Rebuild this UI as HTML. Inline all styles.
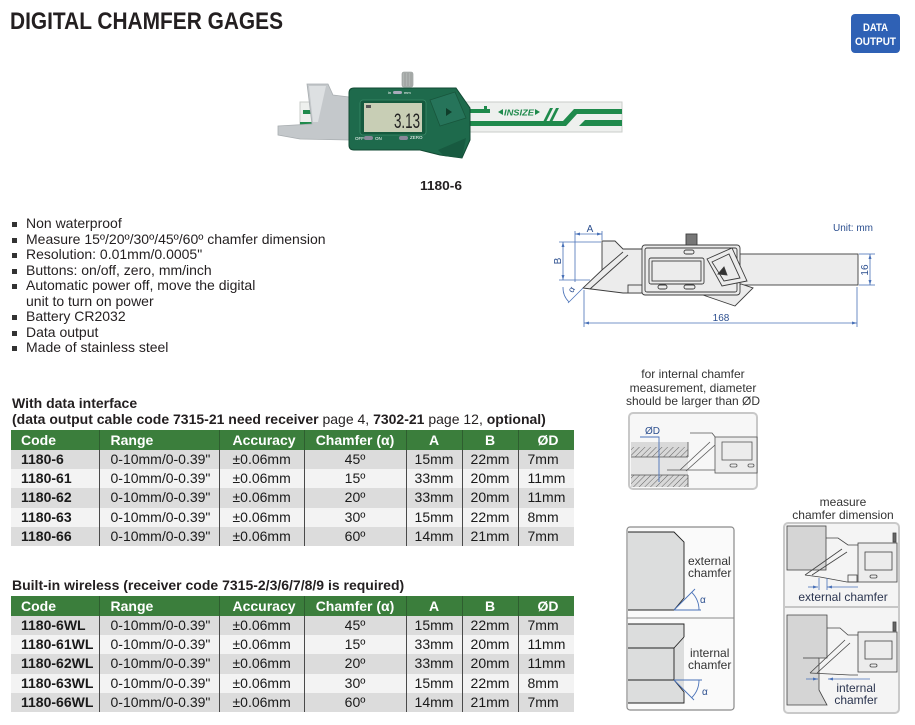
<!DOCTYPE html>
<html><head><meta charset="utf-8">
<style>
html,body{margin:0;padding:0;background:#fff;}
body{width:915px;height:725px;position:relative;overflow:hidden;font-family:"Liberation Sans",Arial,sans-serif;color:#231f20;}
.a{position:absolute;white-space:nowrap;}
svg.bg{position:absolute;left:0;top:0;}
.t{position:absolute;left:11px;width:563px;border-collapse:collapse;table-layout:fixed;font-size:14px;color:#1a1a1a;}
.t td{padding:0;height:19.2px;line-height:19px;overflow:hidden;white-space:nowrap;border-left:1px solid #4a4a4a;}
.t td:first-child{border-left:none;}
.t tr.h td{background:#3b7e3c;color:#fff;font-weight:bold;height:20px;line-height:20px;border-left:1px solid #2e5e2f;}
.t tr.h td:first-child{border-left:none;}
.t tr.g td{background:#dcdcdc;}
.t tr.w td{background:#f3f3f3;}
.t td.c1{padding-left:10px;font-weight:bold;}
.t td.c2{padding-left:11px;}
.t td.c3{padding-left:13px;}
.t td.cc{text-align:center;}
.t td.c7{padding-left:9px;}
.t tr.h td.c7{padding-left:19px;}
.bul{position:absolute;left:12px;width:5px;height:5px;background:#333;}
.cap{position:absolute;font-size:12px;color:#333;text-align:center;white-space:nowrap;}
</style></head><body>

<svg class="bg" width="915" height="725" viewBox="0 0 915 725" xmlns="http://www.w3.org/2000/svg">
<defs>
<marker id="ar" viewBox="0 0 10 10" refX="10" refY="5" markerUnits="userSpaceOnUse" markerWidth="5" markerHeight="5" orient="auto-start-reverse"><path d="M0 2 L10 5 L0 8Z" fill="#4a72b8"/></marker>
<pattern id="hat" width="4" height="4" patternUnits="userSpaceOnUse" patternTransform="rotate(45)"><rect width="4" height="4" fill="#d8d8d8"/><line x1="0" y1="0" x2="0" y2="4" stroke="#555" stroke-width="0.9"/></pattern>
</defs>

<!-- Title -->
<text x="10" y="29" font-family="Liberation Sans, Arial, sans-serif" font-size="24" font-weight="bold" fill="#231f20" textLength="273" lengthAdjust="spacingAndGlyphs">DIGITAL CHAMFER GAGES</text>

<!-- badge -->
<rect x="851" y="14" width="49" height="39" rx="4" fill="#2f61b5"/>
<text x="875.5" y="31" text-anchor="middle" font-family="Liberation Sans, Arial, sans-serif" font-size="11" font-weight="bold" fill="#fff" textLength="25" lengthAdjust="spacingAndGlyphs">DATA</text>
<text x="875.5" y="45" text-anchor="middle" font-family="Liberation Sans, Arial, sans-serif" font-size="11" font-weight="bold" fill="#fff" textLength="41" lengthAdjust="spacingAndGlyphs">OUTPUT</text>

<!-- Product photo -->
<g>
 <rect x="300" y="102" width="322" height="30" fill="#eef0ee" stroke="#c9cdca"/>
 <path d="M303 110 H349 V114 H303Z" fill="#1f8a4c"/>
 <path d="M300 122 H349 V127 H300Z" fill="#1f8a4c"/>
 <path d="M329 106 H332 V114 H329Z" fill="#1f8a4c"/>
 <path d="M470 109 H490 V113 H470Z" fill="#1f8a4c"/>
 <path d="M484 106 H487 V113 H484Z" fill="#1f8a4c"/>
 <path d="M470 121 H563 L574 109 H622 V114 H577 L566 126 H470 Z" fill="#1f8a4c"/>
 <path d="M579 126 L585 120 H622 V126 Z" fill="#1f8a4c"/>
 <path d="M543 122 L550 108 H553 L546 122Z" fill="#1f8a4c"/>
 <path d="M549 122 L556 108 H559 L552 122Z" fill="#1f8a4c"/>
 <path d="M498 112 L503 109 V115Z" fill="#1f8a4c"/>
 <path d="M540 112 L535 109 V115Z" fill="#1f8a4c"/>
 <text x="504" y="115.5" font-family="Liberation Sans, Arial, sans-serif" font-size="8" font-weight="bold" font-style="italic" fill="#1f8a4c" textLength="30" lengthAdjust="spacingAndGlyphs">INSIZE</text>
 <!-- jaw -->
 <path d="M307 84 L328 84 L333 95 L349 97 L349 140 L300 139 L278 135 L278 126 L312 124 L309 100 Z" fill="#c4c8cb" stroke="#a9aeb1" stroke-width="0.8"/>
 <path d="M309 86 L326 86 L318 122 L313 122Z" fill="#dde0e2"/>
 <!-- body -->
 <path d="M354 88 H456 L470 108 L470 140 L462 158 L440 155 L420 150 H354 Q349 150 349 145 V93 Q349 88 354 88Z" fill="#1e6a4c" stroke="#124a33"/>
 <rect x="360" y="100" width="66" height="35" rx="3" fill="#155a3e" stroke="#3a8a68" stroke-width="0.8"/>
 <rect x="364" y="103" width="58" height="29" fill="#c8ceb5"/>
 <text x="420" y="128" text-anchor="end" font-family="Liberation Sans, Arial, sans-serif" font-size="21" fill="#222" textLength="26" lengthAdjust="spacingAndGlyphs">3.13</text>
 <rect x="366" y="105" width="5" height="3" fill="#555"/>
 <path d="M430 100 L455 92 L466 118 L440 126 Z" fill="#26745a" stroke="#18563c" stroke-width="0.8"/>
 <path d="M446 108 L452 112 L446 116Z" fill="#0f3d2a"/>
 <path d="M438 150 L466 138 L462 158 L444 156Z" fill="#175a40"/>
 <rect x="402" y="72" width="11" height="15" rx="2" fill="#b0b5b3" stroke="#8c918f" stroke-width="0.6"/>
 <path d="M405 73 V86 M408 73 V86 M411 73 V86" stroke="#888" stroke-width="0.6"/>
 <rect x="393" y="91" width="9" height="3" rx="1.5" fill="#aab"/>
 <text x="388" y="94" font-family="Liberation Sans, Arial, sans-serif" font-size="4" fill="#fff">in</text>
 <text x="404" y="94" font-family="Liberation Sans, Arial, sans-serif" font-size="4" fill="#fff">mm</text>
 <text x="355" y="140" font-family="Liberation Sans, Arial, sans-serif" font-size="4.5" fill="#fff">OFF</text>
 <rect x="364" y="136" width="9" height="4" rx="2" fill="#889"/>
 <text x="375" y="140" font-family="Liberation Sans, Arial, sans-serif" font-size="4.5" fill="#fff">ON</text>
 <rect x="399" y="136" width="9" height="4" rx="2" fill="#889"/>
 <text x="410" y="139" font-family="Liberation Sans, Arial, sans-serif" font-size="4.5" fill="#fff">ZERO</text>
</g>
<text x="420" y="190" font-family="Liberation Sans, Arial, sans-serif" font-size="13" font-weight="bold" fill="#231f20" textLength="42" lengthAdjust="spacingAndGlyphs">1180-6</text>

<!-- Dimension drawing -->
<text x="833" y="231" font-family="Liberation Sans, Arial, sans-serif" font-size="10" fill="#2c4f8f">Unit: mm</text>
<g stroke="#3d3d3d" stroke-width="0.9" fill="#ececec">
 <rect x="738" y="254" width="120" height="31"/>
 <path d="M602 241 H615 L623 249 H643 V293 H623 L583 288 L602 270 Z"/>
 <line x1="602" y1="270" x2="623" y2="252"/>
 <line x1="590" y1="289" x2="628" y2="255"/>
 <rect x="628" y="285" width="14" height="8"/>
 <path d="M700 294 L735 306 L753 288 L741 284 L720 294Z"/>
 <rect x="642" y="245" width="98" height="50" rx="3"/>
 <rect x="645" y="248" width="92" height="44" rx="2" fill="none"/>
 <rect x="649" y="258" width="55" height="26" rx="2"/>
 <rect x="652" y="261" width="49" height="20" fill="none"/>
 <rect x="686" y="234" width="11" height="11" fill="#777"/>
 <rect x="684" y="250" width="10" height="4" rx="2"/>
 <rect x="658" y="285" width="9" height="4" rx="2"/>
 <rect x="684" y="285" width="11" height="4" rx="2"/>
 <path d="M707 259 L732 248 L747 281 L722 286 Z"/>
 <path d="M712 262 L729 254 L740 278 L724 281Z" fill="none"/>
 <path d="M718 274 L724 267 L727 275Z" fill="#333"/>
</g>
<g stroke="#4a72b8" stroke-width="0.8" fill="none">
 <line x1="575" y1="231" x2="575" y2="282"/>
 <line x1="602" y1="231" x2="602" y2="240"/>
 <line x1="575" y1="234" x2="602" y2="234" marker-start="url(#ar)" marker-end="url(#ar)"/>
 <line x1="559" y1="242" x2="601" y2="242"/>
 <line x1="559" y1="280" x2="590" y2="280"/>
 <line x1="563" y1="242" x2="563" y2="280" marker-start="url(#ar)" marker-end="url(#ar)"/>
 <line x1="583" y1="288" x2="568" y2="303"/>
 <path d="M563 287 A20 20 0 0 0 569 302"/>
 <line x1="859" y1="254" x2="875" y2="254"/>
 <line x1="859" y1="285" x2="875" y2="285"/>
 <line x1="870" y1="254" x2="870" y2="285" marker-start="url(#ar)" marker-end="url(#ar)"/>
 <line x1="584" y1="290" x2="584" y2="327"/>
 <line x1="857" y1="287" x2="857" y2="327"/>
 <line x1="584" y1="323" x2="857" y2="323" marker-start="url(#ar)" marker-end="url(#ar)"/>
</g>
<g font-family="Liberation Sans, Arial, sans-serif" font-size="10" fill="#2c4f8f">
 <text x="590" y="232" text-anchor="middle">A</text>
 <text transform="translate(561,261) rotate(-90)" text-anchor="middle">B</text>
 <text transform="translate(574,291) rotate(-60)" text-anchor="middle" font-size="9">α</text>
 <text transform="translate(868,270) rotate(-90)" text-anchor="middle">16</text>
 <text x="721" y="321" text-anchor="middle">168</text>
</g>

<!-- internal chamfer diameter image -->
<rect x="629" y="413" width="128" height="76" rx="4" fill="#f7f7f7" stroke="#c8c8c8" stroke-width="2"/>
<rect x="631" y="442" width="57" height="45" fill="#d9d9d9"/>
<rect x="631" y="447" width="57" height="10" fill="url(#hat)"/>
<rect x="631" y="475" width="57" height="12" fill="url(#hat)"/>
<rect x="631" y="457" width="57" height="18" fill="#e4e4e4"/>
<g stroke="#555" stroke-width="0.8" fill="none">
 <line x1="631" y1="457" x2="688" y2="457"/>
 <line x1="631" y1="475" x2="688" y2="475"/>
 <line x1="688" y1="442" x2="688" y2="457"/>
 <line x1="688" y1="475" x2="688" y2="487"/>
 <path d="M690 433 H712 L716 438"/>
 <line x1="680" y1="470" x2="710" y2="442"/>
 <line x1="686" y1="471" x2="715" y2="445"/>
 <path d="M667 470 H715"/>
 <rect x="715" y="437" width="42" height="36" fill="#ececec"/>
 <rect x="722" y="442" width="30" height="18"/>
 <rect x="730" y="464" width="7" height="3" rx="1.5"/>
 <rect x="748" y="464" width="6" height="3" rx="1.5"/>
</g>
<g stroke="#4a72b8" stroke-width="0.9" fill="none"><path d="M640 437 H659 V482"/></g>
<text x="645" y="434" font-family="Liberation Sans, Arial, sans-serif" font-size="10" fill="#2c4f8f">ØD</text>

<!-- external/internal chamfer box -->
<rect x="627" y="527" width="107" height="183" rx="3" fill="#fafafa" stroke="#8a8a8a" stroke-width="1.2"/>
<line x1="627" y1="618" x2="734" y2="618" stroke="#8a8a8a" stroke-width="1"/>
<path d="M628 532 H674 L684 542 V598 L674 610 H628" fill="#dcdddd" stroke="#222" stroke-width="0.9"/>
<rect x="628" y="624" width="56" height="79" fill="#dcdddd"/>
<g stroke="#222" stroke-width="0.9" fill="none">
 <path d="M628 624 H684 V637 M684 692 V703 H628"/>
 <path d="M628 648 H674 V680 H628"/>
 <path d="M674 648 L684 637 M674 680 L684 692"/>
</g>
<g stroke="#4a72b8" stroke-width="0.9" fill="none">
 <line x1="674" y1="610" x2="695" y2="589"/>
 <line x1="674" y1="610" x2="701" y2="610"/>
 <path d="M699 610 A25 25 0 0 0 691.7 592.3"/>
 <line x1="674" y1="680" x2="702" y2="680"/>
 <line x1="674" y1="680" x2="694" y2="700"/>
 <path d="M699 680 A25 25 0 0 1 691.7 697.7"/>
</g>
<g font-family="Liberation Sans, Arial, sans-serif" font-size="12" fill="#333">
 <text x="688" y="565">external</text>
 <text x="688" y="577">chamfer</text>
 <text x="690" y="657">internal</text>
 <text x="688" y="669">chamfer</text>
</g>
<text x="700" y="603" font-family="Liberation Sans, Arial, sans-serif" font-size="10" fill="#2c4f8f">α</text>
<text x="702" y="695" font-family="Liberation Sans, Arial, sans-serif" font-size="10" fill="#2c4f8f">α</text>

<!-- measure chamfer dimension box -->
<rect x="784" y="523" width="115" height="190" rx="4" fill="#f4f4f4" stroke="#c9c9c9" stroke-width="2"/>
<line x1="785" y1="607" x2="898" y2="607" stroke="#999"/>
<rect x="787" y="526" width="39" height="44" fill="#d5d5d5" stroke="#444" stroke-width="0.8"/>
<g stroke="#444" stroke-width="0.8" fill="none">
 <path d="M826 538 H838 L848 545 H858"/>
 <line x1="805" y1="575" x2="842" y2="549"/>
 <line x1="812" y1="575" x2="847" y2="552"/>
 <path d="M805 575 L820 577 L847 582 H858"/>
 <rect x="848" y="575" width="9" height="7"/>
 <rect x="858" y="543" width="39" height="39" fill="#ececec"/>
 <rect x="865" y="552" width="27" height="18"/>
 <rect x="870" y="575" width="7" height="3" rx="1.5"/>
 <rect x="893" y="533" width="3" height="9" fill="#666"/>
</g>
<g stroke="#4a72b8" stroke-width="0.8" fill="none">
 <line x1="808" y1="587" x2="818" y2="587" marker-end="url(#ar)"/>
 <line x1="819" y1="578" x2="819" y2="590"/>
 <line x1="827" y1="578" x2="827" y2="590"/>
 <line x1="858" y1="587" x2="827" y2="587" marker-end="url(#ar)"/>
</g>
<path d="M787 615 H827 V658 H819 V690 L827 705 H787 Z" fill="#d5d5d5" stroke="#444" stroke-width="0.8"/>
<line x1="803" y1="658" x2="819" y2="658" stroke="#444" stroke-width="0.8"/>
<g stroke="#444" stroke-width="0.8" fill="none">
 <path d="M827 628 H840 L848 635 H858"/>
 <line x1="810" y1="673" x2="845" y2="640"/>
 <line x1="817" y1="673" x2="850" y2="643"/>
 <path d="M810 673 L850 675 H858"/>
 <rect x="858" y="632" width="39" height="40" fill="#ececec"/>
 <rect x="865" y="641" width="27" height="18"/>
 <rect x="870" y="664" width="7" height="3" rx="1.5"/>
 <rect x="893" y="622" width="3" height="9" fill="#666"/>
</g>
<g stroke="#4a72b8" stroke-width="0.8" fill="none">
 <line x1="806" y1="679" x2="818" y2="679" marker-end="url(#ar)"/>
 <line x1="870" y1="679" x2="828" y2="679" marker-end="url(#ar)"/>
</g>
<g font-family="Liberation Sans, Arial, sans-serif" font-size="12" fill="#2b3550" text-anchor="middle">
 <text x="843" y="601">external chamfer</text>
 <text x="856" y="692">internal</text>
 <text x="856" y="704">chamfer</text>
</g>
</svg>

<!-- bullets -->
<div class="bul" style="top:222px"></div>
<div class="bul" style="top:237.5px"></div>
<div class="bul" style="top:253px"></div>
<div class="bul" style="top:268.5px"></div>
<div class="bul" style="top:284px"></div>
<div class="bul" style="top:315px"></div>
<div class="bul" style="top:330.5px"></div>
<div class="bul" style="top:346px"></div>
<div class="a" style="left:26px;top:216.25px;font-size:14px;line-height:15.5px;color:#231f20">Non waterproof<br>Measure 15º/20º/30º/45º/60º chamfer dimension<br>Resolution: 0.01mm/0.0005"<br>Buttons: on/off, zero, mm/inch<br>Automatic power off, move the digital<br>unit to turn on power<br>Battery CR2032<br>Data output<br>Made of stainless steel</div>

<!-- captions -->
<div class="cap" style="left:613px;top:368px;width:160px;line-height:13.5px">for internal chamfer<br>measurement, diameter<br>should be larger than ØD</div>
<div class="cap" style="left:763px;top:496px;width:160px;line-height:12.5px">measure<br>chamfer dimension</div>

<!-- table 1 title -->
<div class="a" style="left:12px;top:395px;font-size:14px;line-height:16px"><b>With data interface</b><br><b>(data output cable code 7315-21 need receiver</b> page 4, <b>7302-21</b> page 12, <b>optional)</b></div>

<table class="t" style="top:430px">
<colgroup><col style="width:88px"><col style="width:120px"><col style="width:85px"><col style="width:102px"><col style="width:56px"><col style="width:56px"><col style="width:56px"></colgroup>
<tr class="h"><td class="c1">Code</td><td class="c2">Range</td><td class="c3">Accuracy</td><td class="cc">Chamfer (α)</td><td class="cc">A</td><td class="cc">B</td><td class="c7">ØD</td></tr>
<tr class="g"><td class="c1">1180-6</td><td class="c2">0-10mm/0-0.39"</td><td class="c3">±0.06mm</td><td class="cc">45º</td><td class="cc">15mm</td><td class="cc">22mm</td><td class="c7">7mm</td></tr>
<tr class="w"><td class="c1">1180-61</td><td class="c2">0-10mm/0-0.39"</td><td class="c3">±0.06mm</td><td class="cc">15º</td><td class="cc">33mm</td><td class="cc">20mm</td><td class="c7">11mm</td></tr>
<tr class="g"><td class="c1">1180-62</td><td class="c2">0-10mm/0-0.39"</td><td class="c3">±0.06mm</td><td class="cc">20º</td><td class="cc">33mm</td><td class="cc">20mm</td><td class="c7">11mm</td></tr>
<tr class="w"><td class="c1">1180-63</td><td class="c2">0-10mm/0-0.39"</td><td class="c3">±0.06mm</td><td class="cc">30º</td><td class="cc">15mm</td><td class="cc">22mm</td><td class="c7">8mm</td></tr>
<tr class="g"><td class="c1">1180-66</td><td class="c2">0-10mm/0-0.39"</td><td class="c3">±0.06mm</td><td class="cc">60º</td><td class="cc">14mm</td><td class="cc">21mm</td><td class="c7">7mm</td></tr>
</table>

<div class="a" style="left:12px;top:577px;font-size:14px;line-height:16px"><b>Built-in wireless (receiver code 7315-2/3/6/7/8/9 is required)</b></div>

<table class="t" style="top:596px">
<colgroup><col style="width:88px"><col style="width:120px"><col style="width:85px"><col style="width:102px"><col style="width:56px"><col style="width:56px"><col style="width:56px"></colgroup>
<tr class="h"><td class="c1">Code</td><td class="c2">Range</td><td class="c3">Accuracy</td><td class="cc">Chamfer (α)</td><td class="cc">A</td><td class="cc">B</td><td class="c7">ØD</td></tr>
<tr class="g"><td class="c1">1180-6WL</td><td class="c2">0-10mm/0-0.39"</td><td class="c3">±0.06mm</td><td class="cc">45º</td><td class="cc">15mm</td><td class="cc">22mm</td><td class="c7">7mm</td></tr>
<tr class="w"><td class="c1">1180-61WL</td><td class="c2">0-10mm/0-0.39"</td><td class="c3">±0.06mm</td><td class="cc">15º</td><td class="cc">33mm</td><td class="cc">20mm</td><td class="c7">11mm</td></tr>
<tr class="g"><td class="c1">1180-62WL</td><td class="c2">0-10mm/0-0.39"</td><td class="c3">±0.06mm</td><td class="cc">20º</td><td class="cc">33mm</td><td class="cc">20mm</td><td class="c7">11mm</td></tr>
<tr class="w"><td class="c1">1180-63WL</td><td class="c2">0-10mm/0-0.39"</td><td class="c3">±0.06mm</td><td class="cc">30º</td><td class="cc">15mm</td><td class="cc">22mm</td><td class="c7">8mm</td></tr>
<tr class="g"><td class="c1">1180-66WL</td><td class="c2">0-10mm/0-0.39"</td><td class="c3">±0.06mm</td><td class="cc">60º</td><td class="cc">14mm</td><td class="cc">21mm</td><td class="c7">7mm</td></tr>
</table>

</body></html>
